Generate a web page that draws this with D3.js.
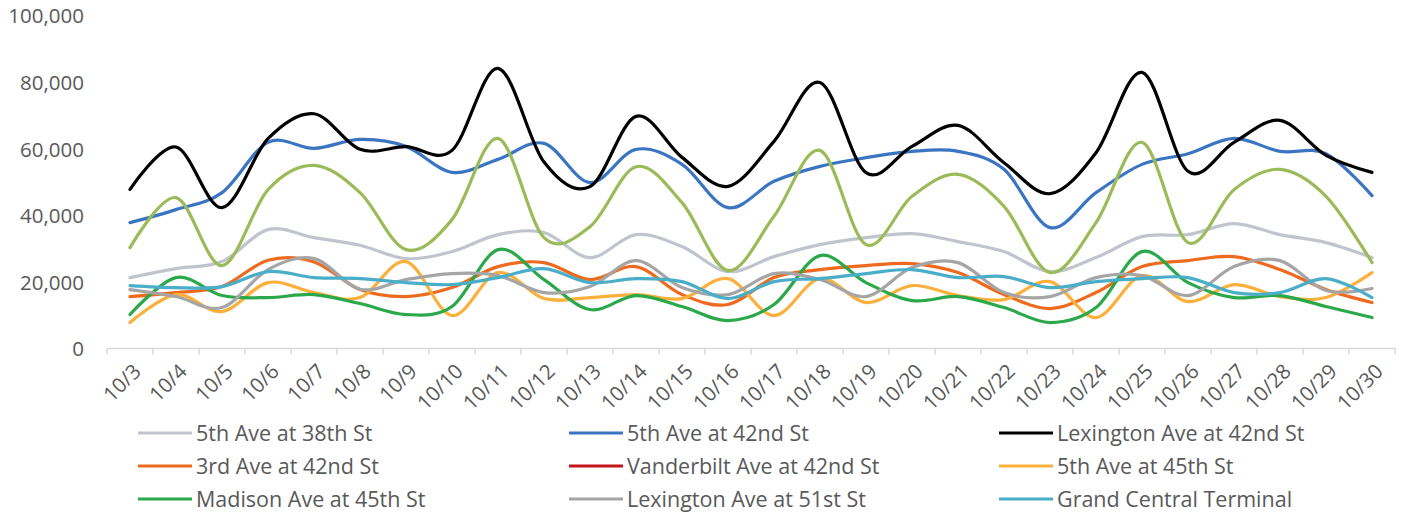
<!DOCTYPE html>
<html>
<head>
<meta charset="utf-8">
<script src="https://cdn.jsdelivr.net/npm/d3@7"></script>
<style>
  html, body { margin: 0; padding: 0; background: #fff; }
  svg { display: block; font-family: "Open Sans", "DejaVu Sans", sans-serif; }
  .lbl { fill: #595959; font-size: 20.5px; }
  .leg { fill: #595959; font-size: 21.5px; }
</style>
</head>
<body>
<svg id="chart" width="1402" height="514"></svg>
<script>
// Daily counts for October, one array per station
const days = ["10/3","10/4","10/5","10/6","10/7","10/8","10/9","10/10","10/11","10/12","10/13","10/14","10/15","10/16","10/17","10/18","10/19","10/20","10/21","10/22","10/23","10/24","10/25","10/26","10/27","10/28","10/29","10/30"];

const fifth38 = [21300,24000,26100,35700,33300,31000,27000,29100,34200,34800,27300,34200,30600,23100,27600,31200,33300,34500,32100,29100,23100,27300,33600,34200,37500,34200,31800,27300];
const fifth42 = [37800,41700,46800,61900,60100,62800,60700,52900,56800,61600,49800,59800,55300,42300,50200,54700,57300,59200,59200,53800,36300,46800,55300,58500,63100,59200,58500,45900];
const lex42   = [47800,60500,42300,63000,70500,59800,60600,59500,84100,56000,48600,69700,57400,48700,62200,79900,52800,60700,67000,55800,46500,58800,82900,53200,61900,68500,58000,52900];
const third42 = [15600,16800,18600,26500,26000,17700,15600,18300,24600,25800,20700,24600,16200,13200,21300,23700,24900,25500,22800,16200,12000,16800,24600,26400,27600,23700,17700,13800];
const vanderbilt42 = [null,null,null,null,null,null,null,null,null,null,null,null,null,null,null,null,null,null,null,null,null,null,null,null,null,null,null,null];
const fifth45 = [7800,16200,11100,19800,16800,15300,26100,9900,22800,15000,15300,16200,15000,21000,9900,21000,13800,18900,15900,14700,20100,9300,21900,14100,19200,15600,15300,22800];
const madison45 = [10200,21300,15900,15300,16200,13500,10200,12600,29700,20700,11700,15900,12600,8400,13200,27900,19800,14400,15600,12300,7800,12300,29100,19800,15300,15900,12600,9300];
const lex51 = [17700,15600,12300,23700,27000,17800,20700,22500,21900,16800,18600,26400,18300,16200,22500,20700,15600,24300,25800,16800,15600,21300,21900,15900,24600,26400,17400,18000];
const grandCentral = [18900,18300,18600,23100,21300,21000,19800,19200,21300,24000,19800,21000,20100,15000,20100,21000,22500,23700,21300,21600,18300,20100,21000,21300,16800,16800,21000,15300];
const series10 = [30300,45300,24900,47700,55000,46800,29700,38700,63100,33300,36600,54600,43800,23400,39700,59500,31200,45700,52300,42700,22800,37800,61900,31800,47700,53800,45700,25800];

const yTicks = [0,20000,40000,60000,80000,100000];

const series = [
  { name: "5th Ave at 38th St",         values: fifth38,      color: "#c0c5cd", legend: true },
  { name: "5th Ave at 42nd St",         values: fifth42,      color: "#3b75c2", legend: true },
  { name: "Lexington Ave at 42nd St",   values: lex42,        color: "#000000", legend: true },
  { name: "3rd Ave at 42nd St",         values: third42,      color: "#ee6a1f", legend: true },
  { name: "Vanderbilt Ave at 42nd St",  values: vanderbilt42, color: "#c5141b", legend: true },
  { name: "5th Ave at 45th St",         values: fifth45,      color: "#fbb03b", legend: true },
  { name: "Madison Ave at 45th St",     values: madison45,    color: "#2ba84a", legend: true },
  { name: "Lexington Ave at 51st St",   values: lex51,        color: "#a5a5a5", legend: true },
  { name: "Grand Central Terminal",     values: grandCentral, color: "#4aaec8", legend: true },
  { name: "Series10",                   values: series10,     color: "#9bbb59", legend: false }
];

const svg = d3.select("#chart");
const plotLeft = 107, plotRight = 1395, plotTop = 15.5, plotBottom = 348.5;

const x = d3.scaleBand().domain(days).range([plotLeft, plotRight]).paddingInner(0).paddingOuter(0);
const y = d3.scaleLinear().domain([0, 100000]).range([plotBottom, plotTop]);
const cx = d => x(d) + x.bandwidth() / 2;

// y-axis labels (no axis line, no gridlines)
const yAxis = d3.axisLeft(y).tickValues(yTicks).tickFormat(d3.format(",")).tickSize(0).tickPadding(0);
const gy = svg.append("g").attr("transform", "translate(84,0)").call(yAxis);
gy.select(".domain").remove();
gy.selectAll("text").attr("class", "lbl").attr("fill", null).attr("dy", "0.36em");
gy.attr("font-family", null).attr("font-size", null);

// x-axis line with tick marks between categories
const gx = svg.append("g").attr("transform", `translate(0,${plotBottom})`);
gx.append("line").attr("x1", plotLeft).attr("x2", plotRight).attr("y1", 0).attr("y2", 0)
  .attr("stroke", "#d9d9d9").attr("stroke-width", 1.5);
const tickPos = days.map(d => x(d)).concat([plotRight]);
gx.selectAll("line.tk").data(tickPos).join("line").attr("class", "tk")
  .attr("x1", d => d).attr("x2", d => d).attr("y1", 0).attr("y2", 6)
  .attr("stroke", "#d9d9d9").attr("stroke-width", 1.5);
gx.selectAll("text").data(days).join("text").attr("class", "lbl")
  .attr("text-anchor", "end")
  .attr("transform", d => `translate(${cx(d) + 7},19) rotate(-45)`)
  .attr("dy", "0.36em")
  .text(d => d);

// smoothed lines
const line = d3.line()
  .defined(v => v != null)
  .x((v, i) => cx(days[i]))
  .y(v => y(v))
  .curve(d3.curveCatmullRom.alpha(0));

svg.append("g").selectAll("path").data(series).join("path")
  .attr("d", s => line(s.values))
  .attr("fill", "none")
  .attr("stroke", s => s.color)
  .attr("stroke-width", 3.2)
  .attr("stroke-linejoin", "round")
  .attr("stroke-linecap", "round");

// legend: three columns
const legendItems = series.filter(s => s.legend);
const colX = [138, 569, 999], rowY = [433, 466, 499];
const lg = svg.append("g").selectAll("g").data(legendItems).join("g")
  .attr("transform", (s, i) => `translate(${colX[i % 3]},${rowY[Math.floor(i / 3)]})`);
lg.append("line").attr("x1", 0).attr("x2", 54).attr("y1", 0).attr("y2", 0)
  .attr("stroke", s => s.color).attr("stroke-width", 3.2);
lg.append("text").attr("class", "leg").attr("x", 58).attr("dy", "0.36em").text(s => s.name);
</script>
</body>
</html>
